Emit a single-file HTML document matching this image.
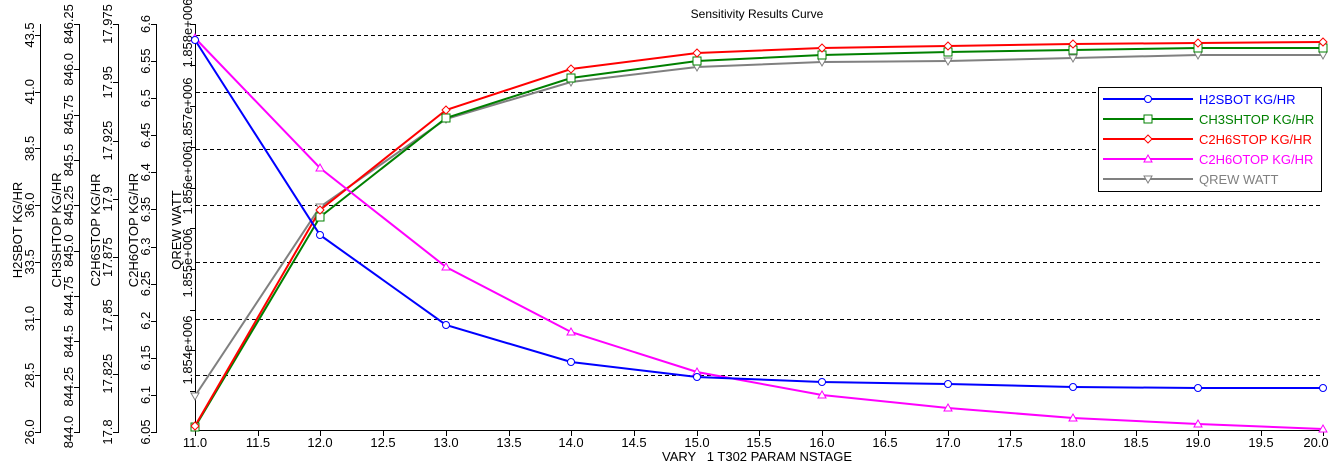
<!DOCTYPE html>
<html><head><meta charset="utf-8"><style>
html,body{margin:0;padding:0;background:#fff;}
svg{display:block;font-family:"Liberation Sans",Arial,sans-serif;}
</style></head><body>
<svg width="1336" height="472" viewBox="0 0 1336 472" xmlns="http://www.w3.org/2000/svg">
<rect width="1336" height="472" fill="#fff"/>
<text x="757" y="18" font-size="12" text-anchor="middle">Sensitivity Results Curve</text>
<text x="757" y="461" font-size="13" text-anchor="middle" xml:space="preserve">VARY   1 T302 PARAM NSTAGE</text>
<g stroke="#000" stroke-dasharray="4,3" stroke-width="1">
<line x1="196" y1="35.5" x2="1322" y2="35.5"/>
<line x1="196" y1="92.5" x2="1322" y2="92.5"/>
<line x1="196" y1="149.5" x2="1322" y2="149.5"/>
<line x1="196" y1="205.5" x2="1322" y2="205.5"/>
<line x1="196" y1="262.5" x2="1322" y2="262.5"/>
<line x1="196" y1="319.5" x2="1322" y2="319.5"/>
<line x1="196" y1="375.5" x2="1322" y2="375.5"/>
</g>
<g stroke="#000" stroke-width="1">
<line x1="195" y1="430.5" x2="1324" y2="430.5"/>
<line x1="195.5" y1="24" x2="195.5" y2="431"/>
</g>
<g stroke="#000">
<line x1="195.5" y1="430" x2="195.5" y2="436"/><line x1="258.5" y1="430" x2="258.5" y2="436"/>
<line x1="320.5" y1="430" x2="320.5" y2="436"/><line x1="383.5" y1="430" x2="383.5" y2="436"/>
<line x1="446.5" y1="430" x2="446.5" y2="436"/><line x1="509.5" y1="430" x2="509.5" y2="436"/>
<line x1="571.5" y1="430" x2="571.5" y2="436"/><line x1="634.5" y1="430" x2="634.5" y2="436"/>
<line x1="697.5" y1="430" x2="697.5" y2="436"/><line x1="759.5" y1="430" x2="759.5" y2="436"/>
<line x1="822.5" y1="430" x2="822.5" y2="436"/><line x1="885.5" y1="430" x2="885.5" y2="436"/>
<line x1="948.5" y1="430" x2="948.5" y2="436"/><line x1="1010.5" y1="430" x2="1010.5" y2="436"/>
<line x1="1073.5" y1="430" x2="1073.5" y2="436"/><line x1="1136.5" y1="430" x2="1136.5" y2="436"/>
<line x1="1198.5" y1="430" x2="1198.5" y2="436"/><line x1="1261.5" y1="430" x2="1261.5" y2="436"/>
<line x1="1323.5" y1="430" x2="1323.5" y2="436"/>
</g>
<g font-size="13" text-anchor="middle">
<text x="195" y="447">11.0</text><text x="258" y="447">11.5</text><text x="320" y="447">12.0</text>
<text x="383" y="447">12.5</text><text x="446" y="447">13.0</text><text x="509" y="447">13.5</text>
<text x="571" y="447">14.0</text><text x="634" y="447">14.5</text><text x="697" y="447">15.0</text>
<text x="759" y="447">15.5</text><text x="822" y="447">16.0</text><text x="885" y="447">16.5</text>
<text x="948" y="447">17.0</text><text x="1010" y="447">17.5</text><text x="1073" y="447">18.0</text>
<text x="1136" y="447">18.5</text><text x="1198" y="447">19.0</text><text x="1261" y="447">19.5</text>
<text x="1316" y="447">20.0</text>
</g>
<g stroke="#000">
<line x1="40.5" y1="24" x2="40.5" y2="432"/>
<line x1="79.5" y1="24" x2="79.5" y2="432"/>
<line x1="118.5" y1="24" x2="118.5" y2="432"/>
<line x1="156.5" y1="24" x2="156.5" y2="432"/>
</g>
<g font-size="13" text-anchor="middle" id="ylabels"></g>
<g fill="none" stroke-width="2">
<polyline stroke="#808080" points="195,396 320,207 446,119 571,82 697,67 822,62 948,61 1073,58 1198,55 1323,55"/>
<polyline stroke="#008000" points="195,427 320,217 446,118 571,78 697,61 822,55 948,52 1073,50 1198,48 1323,48"/>
<polyline stroke="#ff0000" points="195,426 320,210 446,110 571,69 697,53 822,48 948,46 1073,44 1198,43 1323,42"/>
<polyline stroke="#ff00ff" points="195,38 320,168 446,267 571,332 697,372 822,395 948,408 1073,418 1198,424 1323,429"/>
<polyline stroke="#0000ff" points="195,40 320,235 446,325 571,362 697,377 822,382 948,384 1073,387 1198,388 1323,388"/>
</g>
<g id="markers" fill="#fff" stroke-width="1"></g>
<rect x="1098.5" y="87.5" width="223" height="104" fill="#fff" stroke="#000"/>
<g stroke-width="2">
<line x1="1103" y1="99" x2="1193" y2="99" stroke="#0000ff"/>
<line x1="1103" y1="119" x2="1193" y2="119" stroke="#008000"/>
<line x1="1103" y1="139" x2="1193" y2="139" stroke="#ff0000"/>
<line x1="1103" y1="159" x2="1193" y2="159" stroke="#ff00ff"/>
<line x1="1103" y1="179" x2="1193" y2="179" stroke="#808080"/>
</g>
<g fill="#fff" stroke-width="1">
<circle cx="1148" cy="99" r="3.5" stroke="#0000ff"/>
<rect x="1144" y="115" width="8" height="8" stroke="#008000"/>
<polygon points="1148,135 1152,139 1148,143 1144,139" stroke="#ff0000"/>
<polygon points="1148,155 1152,162 1144,162" stroke="#ff00ff"/>
<polygon points="1144,176 1152,176 1148,183" stroke="#808080"/>
</g>
<g font-size="13">
<text x="1199" y="104" fill="#0000ff">H2SBOT KG/HR</text>
<text x="1199" y="124" fill="#008000">CH3SHTOP KG/HR</text>
<text x="1199" y="144" fill="#ff0000">C2H6STOP KG/HR</text>
<text x="1199" y="164" fill="#ff00ff">C2H6OTOP KG/HR</text>
<text x="1199" y="184" fill="#808080">QREW WATT</text>
</g>
<script>
var ns="http://www.w3.org/2000/svg";
var g=document.getElementById('ylabels');
function el(t,a,txt){var e=document.createElementNS(ns,t);for(var k in a)e.setAttribute(k,a[k]);if(txt)e.textContent=txt;return e;}
function axis(x,labels,y0,y1,title,ty){
 var n=labels.length-1;
 for(var i=0;i<=n;i++){var y=y1-(y1-y0)*i/n;
  g.appendChild(el('line',{x1:x-5,y1:Math.round(y)+.5,x2:x+1,y2:Math.round(y)+.5,stroke:'#000'}));
  g.appendChild(el('text',{transform:'translate('+(x-6)+','+y+') rotate(-90)'},labels[i]));}
 g.appendChild(el('text',{transform:'translate('+(x-18)+','+ty+') rotate(-90)'},title));
}
axis(40,['26.0','28.5','31.0','33.5','36.0','38.5','41.0','43.5'],35,432,'H2SBOT KG/HR',230);
axis(79,['844.0','844.25','844.5','844.75','845.0','845.25','845.5','845.75','846.0','846.25'],24,432,'CH3SHTOP KG/HR',230);
axis(118,['17.8','17.825','17.85','17.875','17.9','17.925','17.95','17.975'],24,432,'C2H6STOP KG/HR',230);
axis(156,['6.05','6.1','6.15','6.2','6.25','6.3','6.35','6.4','6.45','6.5','6.55','6.6'],24,432,'C2H6OTOP KG/HR',230);
[24,65,106,147,188,228,269,310,350,391].forEach(function(y){g.appendChild(el('line',{x1:190,y1:y+.5,x2:196,y2:y+.5,stroke:'#000'}));});
[['1.858e+006',33],['1.857e+006',112],['1.856e+006',180],['1.855e+006',263],['1.854e+006',350]].forEach(function(p){
 g.appendChild(el('text',{transform:'translate(192,'+p[1]+') rotate(-90)'},p[0]));});
g.appendChild(el('text',{transform:'translate(181,230) rotate(-90)'},'QREW WATT'));
var m=document.getElementById('markers');var xs=[195,320,446,571,697,822,948,1073,1198,1323];
var S={b:[40,235,325,362,377,382,384,387,388,388],g:[427,217,118,78,61,55,52,50,48,48],r:[426,210,110,69,53,48,46,44,43,42],m:[38,168,267,332,372,395,408,418,424,429],y:[396,207,119,82,67,62,61,58,55,55]};
xs.forEach(function(x,i){
 var y;
 y=S.y[i];m.appendChild(el('polygon',{points:(x-4)+','+(y-3)+' '+(x+4)+','+(y-3)+' '+x+','+(y+4),stroke:'#808080'}));
 y=S.g[i];m.appendChild(el('rect',{x:x-4,y:y-4,width:8,height:8,stroke:'#008000'}));
 y=S.r[i];m.appendChild(el('polygon',{points:x+','+(y-4)+' '+(x+4)+','+y+' '+x+','+(y+4)+' '+(x-4)+','+y,stroke:'#ff0000'}));
 y=S.m[i];m.appendChild(el('polygon',{points:x+','+(y-4)+' '+(x+4)+','+(y+3)+' '+(x-4)+','+(y+3),stroke:'#ff00ff'}));
 y=S.b[i];m.appendChild(el('circle',{cx:x,cy:y,r:3.5,stroke:'#0000ff'}));
});
</script>
</svg>
</body></html>
